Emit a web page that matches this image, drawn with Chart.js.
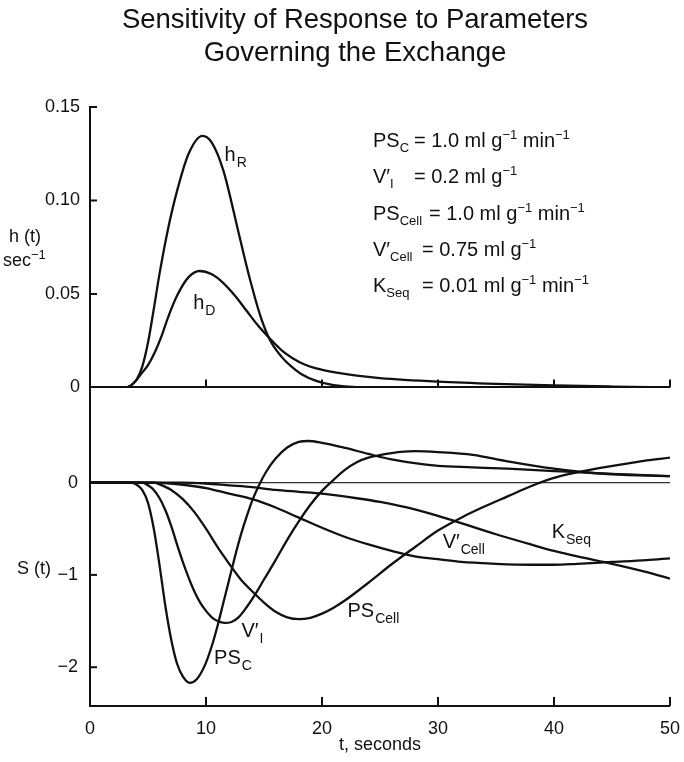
<!DOCTYPE html>
<html>
<head>
<meta charset="utf-8">
<script src="https://cdn.jsdelivr.net/npm/chart.js@4.4.1/dist/chart.umd.min.js"></script>
<style>
  body { margin: 0; background: #fff; }
  #wrap { position: relative; width: 684px; height: 762px; font-family: "Liberation Sans", Arial, sans-serif; color: #111; }
  canvas { position: absolute; left: 0; top: 0; }
  .title { position: absolute; left: 0; width: 710px; text-align: center; font-size: 27.5px; line-height: 30px; }
  .param { position: absolute; left: 373px; font-size: 20px; line-height: 24px; white-space: nowrap; }
  .param .n { display: inline-block; }
  sub, sup { font-size: 13px; line-height: 0; }
  .axt { position: absolute; font-size: 18px; line-height: 20px; white-space: nowrap; }
</style>
</head>
<body>
<div id="wrap">
  <canvas id="chart" width="684" height="762"></canvas>
  <div class="title" style="top:4px">Sensitivity of Response to Parameters</div>
  <div class="title" style="top:37px">Governing the Exchange</div>

  <div class="param" style="top:128px"><span class="n" style="width:41px">PS<sub>C</sub></span>= 1.0 ml g<sup>−1</sup> min<sup>−1</sup></div>
  <div class="param" style="top:164px"><span class="n" style="width:41px">V′<sub>I</sub></span>= 0.2 ml g<sup>−1</sup></div>
  <div class="param" style="top:201px"><span class="n" style="width:56px">PS<sub>Cell</sub></span>= 1.0 ml g<sup>−1</sup> min<sup>−1</sup></div>
  <div class="param" style="top:237px"><span class="n" style="width:49px">V′<sub>Cell</sub></span>= 0.75 ml g<sup>−1</sup></div>
  <div class="param" style="top:273px"><span class="n" style="width:49px">K<sub>Seq</sub></span>= 0.01 ml g<sup>−1</sup> min<sup>−1</sup></div>

  <div class="axt" style="left:9px;top:226px">h (t)</div>
  <div class="axt" style="left:3px;top:250px">sec<sup>−1</sup></div>
  <div class="axt" style="left:17px;top:558px">S (t)</div>
</div>

<script>
// --- Données ---

// panneau du haut : h(t), sec^-1
const tR = [0, 3, 3.5, 4, 4.5, 5, 5.5, 6, 6.7, 7.5, 8.5, 9.7, 10.5, 11.5, 12.8, 13.7, 14.7, 15.5, 16.5, 17.3, 18.2, 19.5, 21, 23, 30, 40, 50];
const hR = [0, 0, 0.001, 0.004, 0.011, 0.024, 0.042, 0.061, 0.084, 0.105, 0.125, 0.1346, 0.131, 0.116, 0.083, 0.06, 0.038, 0.0255, 0.0165, 0.0115, 0.0072, 0.0035, 0.0012, 0.0002, 0, 0, 0];

const tD = [0, 3, 3.5, 4, 4.5, 5, 5.6, 6.2, 6.7, 7.5, 8.5, 9.45, 10.5, 11.5, 12.5, 13.5, 14.5, 15.5, 16.5, 17.5, 18.5, 19.5, 21, 23, 25, 30, 35, 40, 45, 50];
const hD = [0, 0, 0.001, 0.004, 0.008, 0.012, 0.019, 0.028, 0.037, 0.049, 0.059, 0.0623, 0.0605, 0.0558, 0.049, 0.041, 0.033, 0.0262, 0.020, 0.0155, 0.0123, 0.0102, 0.0082, 0.0063, 0.005, 0.0031, 0.0019, 0.0011, 0.0005, 0];

// panneau du bas : sensibilités S(t)
const tPSC = [0, 3.5, 4, 4.5, 5, 5.5, 6, 6.5, 7, 7.5, 8, 8.6, 9.2, 9.9, 10.5, 11, 11.5, 12, 12.5, 13, 13.5, 14, 14.6, 15.2, 16, 17, 18, 18.8, 20, 22, 24, 26, 28, 30, 33, 36, 40, 45, 50];
const sPSC = [0, 0, -0.02, -0.08, -0.22, -0.5, -0.9, -1.34, -1.7, -1.96, -2.1, -2.17, -2.13, -1.98, -1.77, -1.55, -1.3, -1.05, -0.8, -0.57, -0.37, -0.19, -0.02, 0.12, 0.26, 0.38, 0.44, 0.45, 0.43, 0.375, 0.31, 0.25, 0.21, 0.18, 0.165, 0.15, 0.125, 0.095, 0.07];

const tVI = [0, 4.5, 5, 5.5, 6, 6.5, 7, 7.5, 8, 8.5, 9, 9.5, 10, 10.5, 11, 11.6, 12.2, 12.8, 13.5, 14.2, 15, 16, 17, 18, 19, 20, 21, 22, 23, 24, 26, 28, 30, 33, 36, 40, 42, 45, 50];
const sVI = [0, 0, -0.03, -0.08, -0.17, -0.3, -0.47, -0.67, -0.86, -1.03, -1.18, -1.3, -1.39, -1.46, -1.5, -1.52, -1.51, -1.46, -1.35, -1.22, -1.05, -0.84, -0.62, -0.42, -0.24, -0.09, 0.03, 0.14, 0.22, 0.27, 0.32, 0.34, 0.33, 0.3, 0.23, 0.15, 0.12, 0.09, 0.07];

const tPCell = [0, 5.5, 6, 7, 8, 9, 10, 11, 12, 13, 14, 15, 16, 17, 18, 19, 20, 21, 22, 24, 26, 28, 30, 32, 34, 36, 38, 40, 42, 44, 46, 48, 50];
const sPCell = [0, 0, -0.02, -0.08, -0.18, -0.32, -0.5, -0.7, -0.88, -1.05, -1.18, -1.3, -1.4, -1.46, -1.48, -1.465, -1.42, -1.355, -1.275, -1.085, -0.885, -0.7, -0.52, -0.38, -0.26, -0.15, -0.04, 0.05, 0.11, 0.16, 0.2, 0.24, 0.27];

const tVCell = [0, 5, 7, 9, 10, 12, 14, 16, 18, 20, 22, 24, 26, 28, 30, 32, 35, 38, 40, 42, 45, 48, 50];
const sVCell = [0, 0, -0.01, -0.04, -0.06, -0.12, -0.18, -0.27, -0.38, -0.49, -0.59, -0.67, -0.74, -0.8, -0.83, -0.86, -0.88, -0.89, -0.89, -0.88, -0.86, -0.84, -0.82];

const tKSeq = [0, 8, 10, 12, 14, 16, 18, 20, 23, 25, 28, 30, 32, 35, 38, 40, 42, 45, 48, 50];
const sKSeq = [0, 0, -0.01, -0.03, -0.05, -0.08, -0.1, -0.12, -0.17, -0.21, -0.29, -0.36, -0.44, -0.56, -0.67, -0.74, -0.8, -0.88, -0.97, -1.04];

// graduations
const xTicks = [0, 10, 20, 30, 40, 50];
const hTicks = [0, 0.05, 0.10, 0.15];
const sTicks = [-2, -1, 0];

// étiquettes des courbes (coordonnées en données)
const curveLabels = [
  { main: 'h', sub: 'R', x: 11.6, y: 0.121, axis: 'yH' },
  { main: 'h', sub: 'D', x: 8.9, y: 0.042, axis: 'yH' },
  { main: 'V′', sub: 'I', x: 13.05, y: -1.67, axis: 'yS' },
  { main: 'PS', sub: 'C', x: 10.7, y: -1.96, axis: 'yS' },
  { main: 'PS', sub: 'Cell', x: 22.2, y: -1.46, axis: 'yS' },
  { main: 'V′', sub: 'Cell', x: 30.4, y: -0.71, axis: 'yS' },
  { main: 'K', sub: 'Seq', x: 39.8, y: -0.60, axis: 'yS' }
];

const INK = '#111';
const FONT = '"Liberation Sans", Arial, sans-serif';

function pts(ts, vs) {
  return ts.map((t, i) => ({ x: t, y: vs[i] }));
}

function curve(ts, vs, axis) {
  return {
    data: pts(ts, vs),
    yAxisID: axis,
    borderColor: INK,
    borderWidth: 2.3,
    pointRadius: 0,
    fill: false,
    cubicInterpolationMode: 'monotone'
  };
}

// petites graduations tournées vers l'intérieur
const inwardTicks = {
  id: 'inwardTicks',
  afterDraw(chart) {
    const { ctx, chartArea: a, scales } = chart;
    const { x, yH, yS } = scales;
    const line = (x1, y1, x2, y2) => { ctx.beginPath(); ctx.moveTo(x1, y1); ctx.lineTo(x2, y2); ctx.stroke(); };
    ctx.save();
    ctx.strokeStyle = INK;
    ctx.lineWidth = 2;
    const yTop0 = yH.getPixelForValue(0);
    xTicks.forEach(v => {
      if (v === 0) return;
      const px = x.getPixelForValue(v);
      line(px, a.bottom, px, a.bottom - 9);
      line(px, yTop0, px, yTop0 - 8);
    });
    hTicks.forEach(v => {
      if (v === 0) return;
      const py = yH.getPixelForValue(v);
      line(a.left, py, a.left + 7, py);
    });
    sTicks.forEach(v => {
      if (v === 0) return;
      const py = yS.getPixelForValue(v);
      line(a.left, py, a.left + 7, py);
    });
    ctx.restore();
  }
};

// étiquettes avec indices
const labelPlugin = {
  id: 'labelPlugin',
  afterDatasetsDraw(chart) {
    const { ctx, scales } = chart;
    ctx.save();
    ctx.fillStyle = INK;
    ctx.textBaseline = 'alphabetic';
    curveLabels.forEach(l => {
      const px = scales.x.getPixelForValue(l.x);
      const py = scales[l.axis].getPixelForValue(l.y);
      ctx.font = '20px ' + FONT;
      ctx.fillText(l.main, px, py);
      const w = ctx.measureText(l.main).width;
      ctx.font = '14px ' + FONT;
      ctx.fillText(l.sub, px + w + 1, py + 6);
    });
    ctx.restore();
  }
};

new Chart(document.getElementById('chart'), {
  type: 'line',
  data: {
    datasets: [
      curve(tR, hR, 'yH'),
      curve(tD, hD, 'yH'),
      curve(tPSC, sPSC, 'yS'),
      curve(tVI, sVI, 'yS'),
      curve(tPCell, sPCell, 'yS'),
      curve(tVCell, sVCell, 'yS'),
      curve(tKSeq, sKSeq, 'yS')
    ]
  },
  options: {
    responsive: false,
    animation: false,
    devicePixelRatio: 1,
    layout: { padding: { top: 107, right: 11, left: 0, bottom: 0 } },
    plugins: { legend: { display: false }, tooltip: { enabled: false } },
    scales: {
      x: {
        type: 'linear', min: 0, max: 50,
        afterBuildTicks: s => { s.ticks = xTicks.map(v => ({ value: v })); },
        afterFit: s => { s.height = 56; },
        grid: { display: false },
        border: { display: true, color: INK, width: 2 },
        ticks: { color: INK, font: { family: FONT, size: 18 }, padding: 4, maxRotation: 0 },
        title: { display: true, text: 't, seconds', color: INK, font: { family: FONT, size: 18 }, padding: { top: 0, bottom: 6 } }
      },
      yS: {
        type: 'linear', position: 'left', stack: 'panels', stackWeight: 318,
        min: -2.42, max: 1.03,
        afterBuildTicks: s => { s.ticks = sTicks.map(v => ({ value: v })); },
        afterFit: s => { s.width = 90; },
        grid: {
          drawTicks: false,
          color: c => (c.tick && c.tick.value === 0 ? '#333' : 'rgba(0,0,0,0)'),
          lineWidth: 1.3
        },
        border: { display: true, color: INK, width: 2 },
        ticks: {
          color: INK, font: { family: FONT, size: 18 }, padding: 12,
          callback: v => (v < 0 ? '\u2212' + Math.abs(v) : '0')
        }
      },
      yH: {
        type: 'linear', position: 'left', stack: 'panels', stackWeight: 280,
        min: 0, max: 0.15,
        afterBuildTicks: s => { s.ticks = hTicks.map(v => ({ value: v })); },
        afterFit: s => { s.width = 90; },
        grid: {
          drawTicks: false,
          color: c => (c.tick && c.tick.value === 0 ? INK : 'rgba(0,0,0,0)'),
          lineWidth: 2
        },
        border: { display: true, color: INK, width: 2 },
        ticks: {
          color: INK, font: { family: FONT, size: 18 }, padding: 10,
          callback: v => (v === 0 ? '0' : v.toFixed(2))
        }
      }
    }
  },
  plugins: [inwardTicks, labelPlugin]
});
</script>
</body>
</html>
